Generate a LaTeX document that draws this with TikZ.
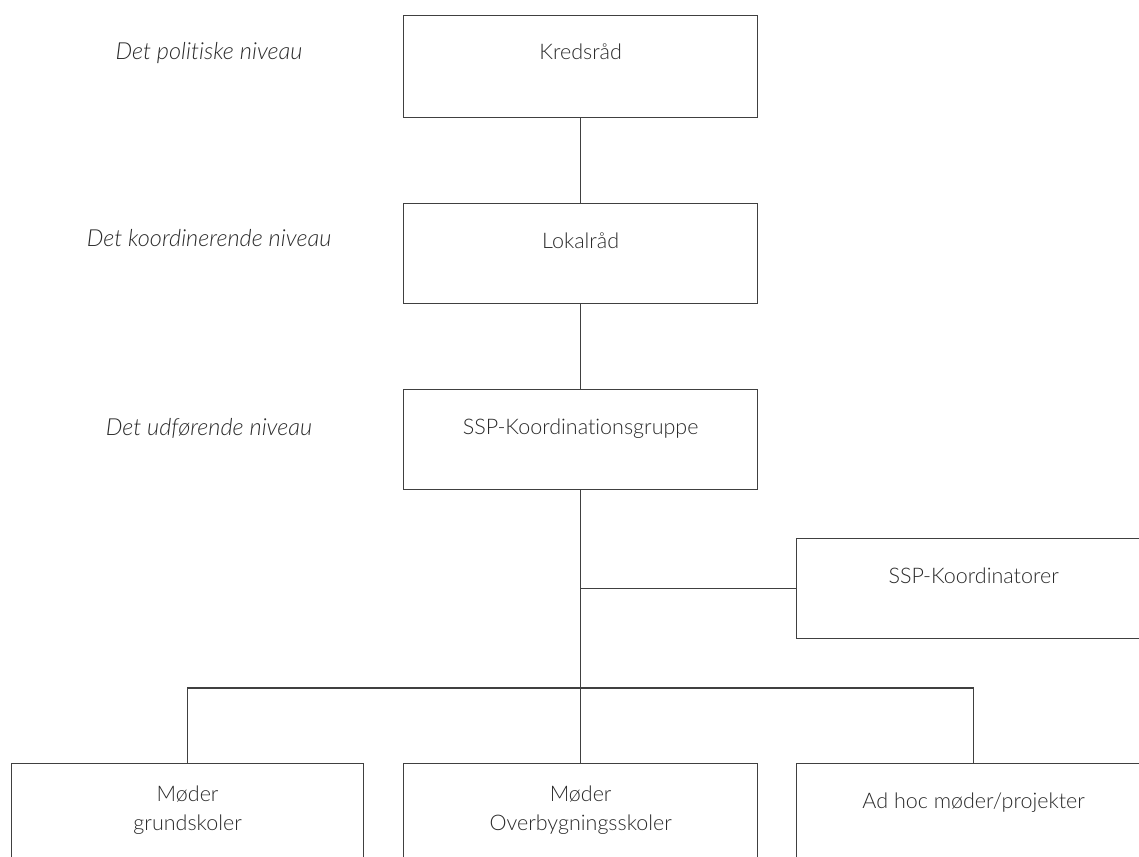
\documentclass[tikz,border=0pt]{standalone}
\usepackage{fontspec}
\setmainfont{Lato}[UprightFont={* Light}, ItalicFont={* Light Italic}, Ligatures={NoCommon}]
\definecolor{txt}{HTML}{2A2A2A}
\definecolor{ln}{HTML}{404040}
\begin{document}
\begin{tikzpicture}[x=1pt,y=-1pt,
  box/.style={draw=ln, line width=1.3pt, rectangle, inner sep=0pt, anchor=north west},
  lbl/.style={text=txt, font=\fontsize{21.5}{28.5}\selectfont, anchor=base, align=center, inner sep=0pt},
  lvl/.style={text=txt, font=\fontsize{23.5}{28}\selectfont\itshape, anchor=base, inner sep=0pt},
  conn/.style={draw=ln, line width=1.3pt}]
\useasboundingbox (0,0) rectangle (1139,856);
\clip (0,0) rectangle (1139,856);
% level labels
\node[lvl] (l1) at (209,60) {Det politiske niveau};
\node[lvl] (l2) at (209,246) {Det koordinerende niveau};
\node[lvl] (l3) at (209,435) {Det udførende niveau};
% boxes
\node[box, minimum width=354pt, minimum height=102pt] (kred) at (403,15) {};
\node[box, minimum width=354pt, minimum height=100pt] (lok) at (403,203) {};
\node[box, minimum width=354pt, minimum height=100pt] (grp) at (403,389) {};
\node[box, minimum width=354pt, minimum height=100pt] (koord) at (796,538) {};
\node[box, minimum width=352pt, minimum height=140pt] (grund) at (11,763) {};
\node[box, minimum width=354pt, minimum height=140pt] (overb) at (403,763) {};
\node[box, minimum width=354pt, minimum height=140pt] (adhoc) at (796,763) {};
% texts
\node[lbl] (kredt) at ([yshift=-45pt]kred.north) {Kredsråd};
\node[lbl] (lokt) at ([yshift=-45pt]lok.north) {Lokalråd};
\node[lbl] (grpt) at ([yshift=-45pt]grp.north) {SSP-Koordinationsgruppe};
\node[lbl] (koordt) at ([yshift=-45pt]koord.north) {SSP-Koordinatorer};
\node[lbl, anchor=north] (grundt) at ([yshift=-23pt]grund.north) {Møder\\grundskoler};
\node[lbl, anchor=north] (overbt) at ([yshift=-23pt]overb.north) {Møder\\Overbygningsskoler};
\node[lbl] (adhoct) at ([yshift=-45pt]adhoc.north) {Ad hoc møder/projekter};
% connectors
\coordinate (bus) at (grp.south |- 0,688);
\coordinate (tap) at (grp.south |- koord.west);
\draw[conn] (kred.south) -- (lok.north);
\draw[conn] (lok.south) -- (grp.north);
\draw[conn] (grp.south) -- (bus);
\draw[conn] (tap) -- (koord.west);
\draw[conn] (bus) -- (overb.north);
\draw[conn] (grund.north) |- (bus) -| (adhoc.north);
\end{tikzpicture}
\end{document}
